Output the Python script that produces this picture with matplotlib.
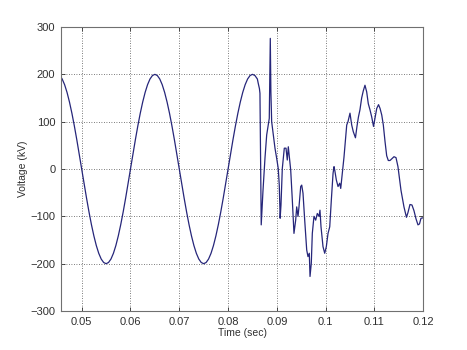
#!/usr/bin/env python3

import matplotlib
matplotlib.use("Agg")
import matplotlib.pyplot as plt
from matplotlib.ticker import FormatStrFormatter

# steady-state part of the trace (0.5 ms steps)
time_steady = [
    0.0455, 0.0460, 0.0465, 0.0470, 0.0475, 0.0480, 0.0485, 0.0490, 0.0495,
    0.0500, 0.0505, 0.0510, 0.0515, 0.0520, 0.0525, 0.0530, 0.0535, 0.0540, 0.0545,
    0.0550, 0.0555, 0.0560, 0.0565, 0.0570, 0.0575, 0.0580, 0.0585, 0.0590, 0.0595,
    0.0600, 0.0605, 0.0610, 0.0615, 0.0620, 0.0625, 0.0630, 0.0635, 0.0640, 0.0645,
    0.0650, 0.0655, 0.0660, 0.0665, 0.0670, 0.0675, 0.0680, 0.0685, 0.0690, 0.0695,
    0.0700, 0.0705, 0.0710, 0.0715, 0.0720, 0.0725, 0.0730, 0.0735, 0.0740, 0.0745,
    0.0750, 0.0755, 0.0760, 0.0765, 0.0770, 0.0775, 0.0780, 0.0785, 0.0790, 0.0795,
    0.0800, 0.0805, 0.0810, 0.0815, 0.0820, 0.0825, 0.0830, 0.0835, 0.0840, 0.0845,
    0.0850, 0.0855, 0.0860,
]
volt_steady = [
    197.5, 190.2, 178.2, 161.8, 141.4, 117.6, 90.8, 61.8, 31.3,
    0.0, -31.3, -61.8, -90.8, -117.6, -141.4, -161.8, -178.2, -190.2, -197.5,
    -200.0, -197.5, -190.2, -178.2, -161.8, -141.4, -117.6, -90.8, -61.8, -31.3,
    0.0, 31.3, 61.8, 90.8, 117.6, 141.4, 161.8, 178.2, 190.2, 197.5,
    200.0, 197.5, 190.2, 178.2, 161.8, 141.4, 117.6, 90.8, 61.8, 31.3,
    0.0, -31.3, -61.8, -90.8, -117.6, -141.4, -161.8, -178.2, -190.2, -197.5,
    -200.0, -197.5, -190.2, -178.2, -161.8, -141.4, -117.6, -90.8, -61.8, -31.3,
    0.0, 31.3, 61.8, 90.8, 117.6, 141.4, 161.8, 178.2, 190.2, 197.5,
    200.0, 197.5, 190.2,
]

# transient after the fault
time_fault = [
    0.08618, 0.08642, 0.08653, 0.08667, 0.08679, 0.08714, 0.08756, 0.08791,
    0.08824, 0.08844, 0.08865, 0.08877, 0.08893, 0.08926, 0.08961, 0.08995,
    0.09028, 0.09049, 0.09067, 0.09084, 0.09111, 0.09152, 0.09187, 0.09213,
    0.09234, 0.09283, 0.09316, 0.09350, 0.09385, 0.09406, 0.09433, 0.09453,
    0.09488, 0.09509, 0.09535, 0.09570, 0.09611, 0.09637, 0.09664, 0.09679,
    0.09705, 0.09726, 0.09760, 0.09795, 0.09828, 0.09863, 0.09883, 0.09904,
    0.09945, 0.09980, 0.10013, 0.10048, 0.10083, 0.10116, 0.10151, 0.10171,
    0.10185, 0.10218, 0.10253, 0.10287, 0.10308, 0.10334, 0.10375, 0.10431,
    0.10457, 0.10498, 0.10533, 0.10565, 0.10610, 0.10641, 0.10671, 0.10702,
    0.10737, 0.10770, 0.10805, 0.10840, 0.10873, 0.10908, 0.10943, 0.10980,
    0.11011, 0.11046, 0.11083, 0.11114, 0.11149, 0.11181, 0.11216, 0.11250,
    0.11283, 0.11318, 0.11359, 0.11400, 0.11441, 0.11481, 0.11543, 0.11604,
    0.11655, 0.11686, 0.11727, 0.11768, 0.11809, 0.11850, 0.11891, 0.11922,
    0.11953, 0.12000,
]
volt_fault = [
    181, 170, 160, 20, -118, -48, 23, 72,
    93, 107, 276, 163, 100, 72, 44, 23,
    1, -34, -104, -76, 1, 44, 44, 19,
    47, -2, -65, -136, -108, -80, -100, -80,
    -37, -34, -51, -108, -171, -185, -178, -227,
    -199, -136, -100, -108, -94, -100, -87, -122,
    -164, -178, -164, -136, -122, -65, -9, 5,
    -2, -23, -37, -30, -41, -16, 25, 93,
    100, 118, 93, 79, 66, 90, 110, 125,
    150, 165, 177, 163, 138, 125, 110, 90,
    108, 128, 136, 128, 114, 93, 58, 28,
    18, 18, 22, 26, 24, 5, -45, -80,
    -102, -92, -75, -76, -88, -105, -118, -116,
    -104, -103,
]

x_ticks = [0.05, 0.06, 0.07, 0.08, 0.09, 0.10, 0.11, 0.12]
y_ticks = [-300, -200, -100, 0, 100, 200, 300]


def main():
    plt.rcParams["font.family"] = ["Liberation Sans", "DejaVu Sans"]
    fig = plt.figure(figsize=(4.67, 3.5), dpi=100)
    ax = fig.add_axes([0.1306, 0.1114, 0.7758, 0.8114])

    t = time_steady + time_fault
    v = volt_steady + volt_fault
    ax.plot(t, v, color="#26267a", linewidth=0.9)

    ax.set_xlim(0.04576, 0.12)
    ax.set_ylim(-300, 300)
    ax.set_xticks(x_ticks)
    ax.set_yticks(y_ticks)
    ax.xaxis.set_major_formatter(FormatStrFormatter("%g"))

    ax.grid(True, linestyle=(0, (1, 2)), color="#505050", linewidth=0.6)
    ax.tick_params(direction="in", top=True, right=True, length=3,
                   labelsize=8, colors="#303030", width=0.6, pad=4)
    for s in ax.spines.values():
        s.set_color("#707070")
        s.set_linewidth(0.8)

    ax.set_xlabel("Time (sec)", fontsize=7.5, color="#303030", labelpad=1)
    ax.set_ylabel("Voltage (kV)", fontsize=7.5, color="#303030", labelpad=2)

    fig.savefig("out.png", dpi=100)


if __name__ == "__main__":
    main()
